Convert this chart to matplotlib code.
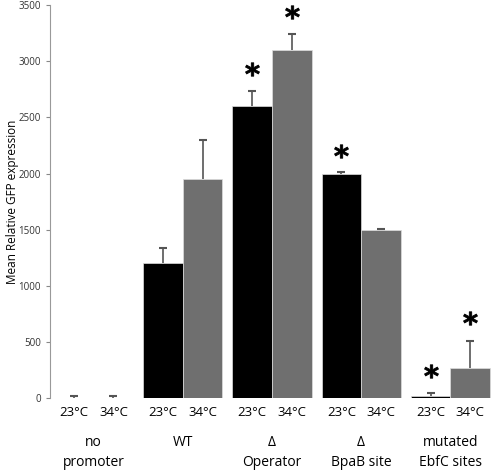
import matplotlib
matplotlib.use("Agg")
import matplotlib.pyplot as plt
import numpy as np

plt.rcParams['font.family'] = ['Open Sans', 'DejaVu Sans']

# data
groups = ['no\npromoter', 'WT', '\u0394\nOperator', '\u0394\nBpaB site', 'mutated\nEbfC sites']
temps = ['23\u00b0C', '34\u00b0C']
vals_23 = [3, 1200, 2600, 2000, 15]
vals_34 = [3, 1950, 3100, 1500, 265]
err_23 = [12, 140, 135, 10, 30]
err_34 = [12, 350, 145, 8, 245]
# significance stars: (group, temp index, y)
stars = [(2, 0, 2930), (2, 1, 3440), (3, 0, 2200), (4, 0, 240), (4, 1, 710)]

fig = plt.figure(figsize=(5, 4.7), dpi=100)
ax = fig.add_axes([0.1, 0.153, 0.89, 0.836])

x = np.arange(len(groups))
w = 0.444
xs = [x - w / 2, x + w / 2]
ax.bar(xs[0], vals_23, w, color='black', edgecolor='#dddddd', linewidth=0.5)
ax.bar(xs[1], vals_34, w, color='#6f6f6f', edgecolor='#dddddd', linewidth=0.5)

# upper-only error bars
for xx, v, e in [(xs[0], vals_23, err_23), (xs[1], vals_34, err_34)]:
    v = np.array(v)
    e = np.array(e)
    ax.vlines(xx, v, v + e, color='#555555', lw=1.2)
    ax.plot(xx, v + e, ls='none', marker='_', ms=6, mew=1.5, color='#555555')

for g, t, y in stars:
    ax.plot(xs[t][g], y, marker=r'$\mathbf{*}$', color='black', ms=10, mew=0.6)

ax.set_xlim(-0.49, 4.5)
ax.set_ylim(0, 3500)
ax.set_yticks(np.arange(0, 3501, 500))
ax.tick_params(axis='y', labelsize=7, colors='#888888', labelcolor='#333333',
               length=3, width=0.8)
ax.set_ylabel('Mean Relative GFP expression', fontsize=8.5)
ax.yaxis.set_label_coords(-0.07, 0.5)

ax.set_xticks(np.concatenate([xs[0], xs[1]]))
ax.set_xticklabels([temps[0]] * len(x) + [temps[1]] * len(x), fontsize=9.5)
ax.tick_params(axis='x', length=0, pad=6)

for i, g in enumerate(groups):
    ax.text(x[i], -0.095, g, transform=ax.get_xaxis_transform(), ha='center',
            va='top', fontsize=10, linespacing=1.4)

for s in ['top', 'right', 'bottom']:
    ax.spines[s].set_visible(False)
ax.spines['left'].set_color('#999999')

fig.savefig('out.png', dpi=100)
